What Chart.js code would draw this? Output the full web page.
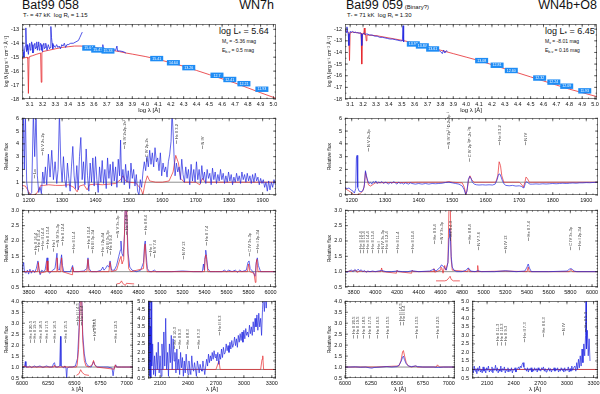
<!DOCTYPE html>
<html>
<head>
<meta charset="utf-8">
<script src="https://cdn.jsdelivr.net/npm/chart.js@4.4.1/dist/chart.umd.min.js"></script>
<style>
  html, body { margin: 0; padding: 0; background: #fff; overflow: hidden; }
  body { width: 600px; height: 394px; position: relative; font-family: "Liberation Sans", Arial, sans-serif; color: #111; }
  canvas { position: absolute; }
  .t { position: absolute; white-space: nowrap; line-height: 1; }
  sub { font-size: 70%; vertical-align: -0.25em; line-height: 0; }
</style>
</head>
<body>
<div class="t" style="left:22px;top:-1px;font-size:12.5px">Bat99 058</div>
<div class="t" style="right:326px;top:-1px;font-size:12.5px">WN7h</div>
<div class="t" style="left:23px;top:12px;font-size:6px">T<sub>*</sub> = 47 kK &nbsp;log R<sub>t</sub> = 1.15</div>
<div class="t" style="left:219px;top:27px;font-size:9px">log L<sub>*</sub> = 5.64</div>
<div class="t" style="left:222px;top:39px;font-size:5px">M<sub>v</sub> = -5.36 mag</div>
<div class="t" style="left:222px;top:48px;font-size:5px">E<sub>b-v</sub> = 0.5 mag</div>

<div class="t" style="left:346px;top:-1px;font-size:12.5px">Bat99 059<span style="font-size:6px"> (Binary?)</span></div>
<div class="t" style="right:3px;top:-1px;font-size:12.5px">WN4b+O8</div>
<div class="t" style="left:347px;top:12px;font-size:6px">T<sub>*</sub> = 71 kK &nbsp;log R<sub>t</sub> = 1.30</div>
<div class="t" style="left:545px;top:27px;font-size:9px">log L<sub>*</sub> = 6.45</div>
<div class="t" style="left:545px;top:39px;font-size:5px">M<sub>v</sub> = -8.01 mag</div>
<div class="t" style="left:545px;top:48px;font-size:5px">E<sub>b-v</sub> = 0.16 mag</div>

<script>
// ---------------- tick labels ----------------
const sedTicks = [3.1,3.2,3.3,3.4,3.5,3.6,3.7,3.8,3.9,4.0,4.1,4.2,4.3,4.4,4.5,4.6,4.7,4.8,4.9,5.0];
const sedY058 = [-18,-17,-16,-15,-14,-13];
const sedY059 = [-18,-17,-16,-15,-14,-13,-12];
const uvTicks = [1200,1300,1400,1500,1600,1700,1800,1900];
const uvY = [0,1,2,3,4,5,6];
const optTicks = [3800,4000,4200,4400,4600,4800,5000,5200,5400,5600,5800,6000];
const optY = [0.5,1.0,1.5,2.0,2.5,3.0];
const haTicks = [6000,6250,6500,6750,7000];
const haY = [0.5,1.0,1.5,2.0,2.5,3.0,3.5,4.0];
const irTicks = [2100,2400,2700,3000,3300];
const irY = [0.5,1.0,1.5,2.0,2.5,3.0,3.5,4.0,4.5,5.0];

// ---------------- Bat99 058 ----------------
const sed058Model = [[3.04,-15.1],[3.06,-15.05],[3.08,-15.0],[3.085,-15.1],[3.09,-17.6],[3.095,-15.0],[3.1,-14.95],[3.12,-14.9],[3.15,-14.8],[3.185,-14.7],[3.19,-16.8],[3.195,-14.7],[3.2,-14.6],[3.25,-14.5],[3.3,-14.4],[3.35,-14.3],[3.4,-14.25],[3.45,-14.2],[3.5,-14.2],[3.55,-14.25],[3.6,-14.3],[3.65,-14.38],[3.7,-14.45],[3.75,-14.52],[3.8,-14.6],[3.85,-14.7],[3.9,-14.78],[4.0,-14.95],[4.1,-15.15],[4.2,-15.4],[4.3,-15.65],[4.4,-15.95],[4.5,-16.25],[4.6,-16.55],[4.7,-16.85],[4.8,-17.2],[4.9,-17.55],[5.02,-17.95]];
const sed058Obs = [[3.045,-13.9],[3.05,-14.6],[3.055,-15.0],[3.06,-14.5],[3.065,-14.2],[3.07,-12.9],[3.075,-14.6],[3.08,-14.1],[3.085,-14.5],[3.09,-14.8],[3.095,-14.2],[3.10,-14.0],[3.105,-14.5],[3.11,-14.4],[3.115,-13.9],[3.12,-14.1],[3.125,-14.7],[3.13,-14.6],[3.135,-14.1],[3.14,-14.0],[3.145,-14.4],[3.15,-14.3],[3.155,-13.9],[3.16,-14.5],[3.165,-14.2],[3.17,-13.9],[3.175,-14.5],[3.18,-14.3],[3.185,-14.0],[3.19,-14.1],[3.195,-14.5],[3.20,-14.6],[3.205,-14.1],[3.21,-14.0],[3.215,-14.4],[3.22,-14.3],[3.225,-14.0],[3.23,-14.2],[3.235,-14.5],[3.24,-14.5],[3.245,-14.1],[3.25,-14.1],[3.255,-14.4],[3.26,-14.3],[3.265,-12.8],[3.27,-13.6],[3.275,-14.0],[3.28,-14.4],[3.285,-14.1],[3.29,-14.2],[3.30,-14.3],[3.31,-14.1],[3.32,-14.3],[3.33,-14.2],[3.34,-14.4],[3.35,-14.1],[3.36,-14.2],[3.37,-14.0],[3.38,-14.3],[3.39,-14.1],[3.40,-14.1],[3.42,-14.0],[3.44,-14.0],[3.46,-13.9],[3.48,-13.8],[3.49,-13.6],[3.50,-13.4],[3.51,-13.2],[3.515,null],[3.52,-14.2],[3.55,-14.3],[3.58,-14.4],[3.60,-14.35],[3.62,-14.4],[3.65,-14.4],[3.665,-14.45],[3.67,-14.1],[3.675,-14.45],[3.70,-14.45],[3.72,-14.5],[3.75,-14.45],[3.77,-14.5],[3.78,-14.2],[3.785,-14.55],[3.80,-14.55],[3.83,-14.6],[3.85,-14.7]];
const sed058Phot = [[3.56,-14.34,'15.04'],[3.63,-14.48,'15.41'],[3.71,-14.55,'15.33'],[4.09,-15.1,'15.41'],[4.22,-15.4,'14.64'],[4.34,-15.75,'13.26'],[4.56,-16.3,'12.7'],[4.66,-16.6,'12.41'],[4.77,-16.9,'12.21'],[4.91,-17.3,'11.93']];

const uv058Model = [[1180,0.75],[1190,0.7],[1197,0.4],[1203,0.1],[1210,0.0],[1222,0.05],[1230,0.4],[1236,0.75],[1245,0.75],[1260,0.8],[1280,0.75],[1300,0.75],[1320,0.8],[1335,0.6],[1345,0.25],[1352,0.7],[1365,0.8],[1375,0.4],[1382,0.8],[1400,0.85],[1420,0.8],[1440,0.85],[1460,0.9],[1475,1.2],[1482,1.5],[1490,1.1],[1500,1.0],[1520,0.95],[1535,0.5],[1542,0.05],[1548,0.9],[1555,1.5],[1562,1.1],[1580,1.0],[1600,1.0],[1620,1.1],[1632,1.8],[1640,3.1],[1648,2.5],[1655,1.3],[1665,1.0],[1700,1.0],[1712,0.8],[1720,1.3],[1728,1.0],[1800,1.0],[1940,1.0]];
const uv058Obs = [[1180,0.3],[1184,6.5],[1187,2.0],[1190,6.5],[1194,1.0],[1199,0.1],[1204,0.0],[1209,0.2],[1214,6.5],[1218,3.0],[1222,6.5],[1226,1.5],[1230,0.2],[1234,0.6],[1238,0.1],[1242,1.8],[1246,0.9],[1250,2.2],[1254,0.8],[1259,3.2],[1264,1.4],[1269,3.5],[1274,1.2],[1279,2.6],[1284,0.9],[1288,2.0],[1292,6.5],[1296,2.5],[1300,1.0],[1304,3.0],[1308,1.2],[1312,0.6],[1316,2.5],[1320,1.3],[1324,0.3],[1328,2.2],[1332,3.8],[1336,1.5],[1340,0.5],[1344,2.3],[1348,0.4],[1352,3.0],[1356,4.5],[1360,1.2],[1364,2.6],[1368,0.8],[1372,3.6],[1376,1.5],[1380,0.3],[1384,2.5],[1388,1.0],[1392,2.9],[1396,0.7],[1400,3.0],[1404,1.2],[1408,0.2],[1412,2.2],[1416,1.0],[1420,2.7],[1424,0.9],[1428,2.0],[1432,0.5],[1436,2.9],[1440,1.3],[1444,2.4],[1448,0.7],[1452,2.6],[1456,1.1],[1460,2.2],[1464,0.6],[1468,2.8],[1472,1.5],[1475,4.3],[1478,1.0],[1482,2.0],[1486,0.8],[1490,2.4],[1494,1.0],[1498,1.9],[1502,0.5],[1506,2.5],[1510,1.3],[1514,2.0],[1518,0.7],[1522,1.6],[1526,0.3],[1530,0.0],[1534,1.2],[1538,0.6],[1542,1.8],[1546,2.6],[1550,1.9],[1554,3.0],[1558,2.2],[1562,3.5],[1566,2.4],[1570,3.3],[1574,2.2],[1578,3.7],[1582,2.6],[1586,2.9],[1590,1.9],[1594,3.3],[1598,1.5],[1602,2.5],[1606,1.8],[1610,2.2],[1614,1.4],[1618,2.6],[1622,3.2],[1626,4.2],[1629,6.5],[1632,5.0],[1635,3.0],[1638,1.5],[1642,2.5],[1646,1.8],[1650,2.2],[1654,1.2],[1658,2.8],[1662,1.6],[1666,1.0],[1670,2.2],[1674,1.3],[1678,2.0],[1682,0.8],[1686,2.4],[1690,1.1],[1694,2.0],[1698,1.0],[1702,2.6],[1706,1.2],[1710,2.0],[1714,0.9],[1718,2.3],[1722,1.2],[1726,1.8],[1730,0.9],[1734,2.0],[1738,1.3],[1742,1.7],[1746,0.8],[1750,2.1],[1754,1.2],[1758,1.8],[1762,0.9],[1766,1.6],[1770,1.1],[1774,2.0],[1778,1.2],[1782,1.7],[1786,0.9],[1790,1.5],[1794,1.0],[1798,1.8],[1802,1.1],[1806,1.6],[1810,0.8],[1814,1.4],[1818,1.0],[1822,1.7],[1826,1.1],[1830,1.5],[1834,0.9],[1838,1.8],[1842,1.2],[1846,1.6],[1850,1.0],[1854,1.7],[1858,1.1],[1862,1.5],[1866,0.9],[1870,1.6],[1874,1.0],[1878,1.7],[1882,1.1],[1886,1.4],[1890,0.8],[1894,1.3],[1898,0.9],[1902,1.2],[1906,0.6],[1910,1.0],[1914,0.3],[1918,1.1],[1922,0.4],[1926,1.0],[1930,0.6],[1934,1.2],[1938,0.8]];
const uv058Ids = [[1215,1.3,'Lα'],[1240,3.1,'N V 2s-2p'],[1486,3.6,'N IV 2s2p-2s²'],[1550,2.6,'C IV 2p-2s'],[1640,4.0,'He II 3-2'],[1718,3.6,'N IV']];

const opt058Obs = [[3740,1.0],[3750,1.25],[3755,1.3],[3762,1.0],[3775,0.95],[3790,1.05],[3800,0.92],[3812,1.08],[3825,0.95],[3840,1.05],[3855,0.97],[3870,1.1],[3885,1.35],[3893,1.1],[3905,0.9],[3920,1.05],[3935,1.0],[3950,1.05],[3968,1.45],[3975,1.05],[3990,0.95],[4005,1.0],[4020,1.05],[4040,1.1],[4058,1.6],[4066,1.1],[4080,1.05],[4100,1.55],[4108,1.2],[4120,1.0],[4150,1.0],[4180,1.0],[4200,1.2],[4210,1.0],[4250,1.0],[4300,1.02],[4330,1.1],[4340,1.45],[4350,1.1],[4370,1.0],[4420,1.0],[4460,1.05],[4475,1.15],[4485,1.05],[4500,1.1],[4515,1.2],[4530,1.15],[4541,1.35],[4555,1.05],[4580,1.05],[4600,1.2],[4620,1.5],[4634,1.7],[4640,2.0],[4648,1.6],[4660,1.5],[4672,2.2],[4680,3.2],[4686,3.2],[4695,2.6],[4705,1.6],[4720,1.15],[4740,1.05],[4780,1.0],[4820,1.05],[4845,1.3],[4855,1.9],[4861,2.0],[4868,1.6],[4880,1.1],[4900,1.0],[4920,1.0],[4945,1.05],[4960,1.0],[5000,1.0],[5100,1.0],[5200,1.02],[5300,1.0],[5380,1.0],[5390,1.25],[5398,1.05],[5405,1.5],[5411,1.7],[5418,1.5],[5430,1.1],[5450,1.0],[5500,1.0],[5560,1.0],[5580,1.05],[5600,1.0],[5620,1.05],[5650,1.0],[5680,1.05],[5700,0.98],[5720,1.05],[5740,1.0],[5780,1.05],[5795,1.3],[5805,1.35],[5815,1.1],[5840,1.0],[5860,0.85],[5870,1.3],[5880,1.45],[5890,1.2],[5910,1.0],[5950,1.0],[6000,1.0],[6050,1.0]];
const opt058Model = [[3740,1.0],[3880,1.0],[3889,1.3],[3900,0.95],[3960,1.0],[3968,1.35],[3976,1.0],[4050,1.0],[4058,1.45],[4066,1.0],[4092,1.0],[4100,1.45],[4108,1.0],[4195,0.9],[4200,1.15],[4210,1.0],[4330,1.0],[4340,1.4],[4350,1.0],[4530,1.0],[4541,1.3],[4552,1.0],[4600,1.05],[4634,1.45],[4640,1.5],[4650,1.25],[4665,1.4],[4680,3.2],[4692,3.2],[4700,1.8],[4710,1.1],[4730,1.0],[4845,1.1],[4855,1.8],[4861,1.9],[4870,1.3],[4880,1.0],[5400,1.0],[5405,1.45],[5411,1.55],[5418,1.4],[5430,1.0],[5790,1.0],[5801,1.25],[5812,1.0],[5850,0.95],[5862,0.65],[5868,1.2],[5876,1.4],[5886,1.0],[6050,1.0]];
const opt058Inset = [[4600,0.6],[4630,0.62],[4645,0.7],[4655,0.62],[4680,0.55],[4690,0.62],[4760,0.6]];
const opt058Ids = [[3858,1.55,'He II 16-4'],[3889,1.65,'He II 15-4'],[3923,1.7,'He II 14-4'],[3968,1.75,'He II 13-4'],[4026,1.65,'He I'],[4058,1.8,'N IV 3s-3p'],[4100,1.85,'He II 12-4'],[4200,1.6,'He II 11-4'],[4340,1.75,'He II 10-4'],[4379,1.6,'N III 3p-3d'],[4471,1.5,'He I 2p-4d'],[4511,1.6,'N III 3s-3p'],[4541,1.55,'He II 9-4'],[4604,2.1,'N V 3s-3p'],[4686,2.2,'He II 4-3'],[4861,2.2,'He II 8-4'],[4905,1.5,'He I'],[4945,1.45,'N V 7-6'],[5200,1.4,'N IV 13'],[5411,1.85,'He II 7-4'],[5801,1.5,'C IV 3s-3p'],[5876,1.6,'He I 2p-3d']];

const ha058Obs = [[6000,1.0],[6010,0.95],[6025,1.05],[6032,1.25],[6038,1.0],[6060,1.0],[6074,1.05],[6090,0.97],[6118,1.05],[6140,1.0],[6171,1.05],[6200,0.98],[6233,1.05],[6260,1.0],[6290,1.0],[6300,1.15],[6310,1.2],[6320,1.0],[6340,1.0],[6360,1.05],[6368,2.4],[6372,1.05],[6390,1.0],[6400,0.95],[6410,1.05],[6420,0.95],[6427,0.45],[6432,0.95],[6450,1.0],[6480,1.0],[6510,1.05],[6530,1.4],[6545,2.8],[6555,4.2],[6570,4.2],[6580,2.5],[6595,1.6],[6610,1.2],[6630,1.05],[6660,1.0],[6675,1.15],[6683,1.25],[6695,1.1],[6720,1.0],[6780,1.0],[6820,1.0],[6860,0.95],[6870,0.6],[6880,0.95],[6895,1.1],[6905,1.0],[6950,1.0],[7000,1.0],[7060,1.0]];
const ha058Model = [[6000,1.0],[6030,1.05],[6040,1.0],[6305,1.0],[6310,1.08],[6320,1.0],[6400,1.0],[6406,1.05],[6412,1.0],[6520,1.0],[6527,1.1],[6540,1.8],[6550,3.2],[6558,4.2],[6570,4.2],[6580,2.2],[6595,1.3],[6610,1.05],[6640,1.0],[6670,1.1],[6683,1.3],[6695,1.1],[6710,1.0],[6880,0.9],[6891,1.1],[6900,1.0],[7060,1.0]];
const ha058Inset = [[6520,0.62],[6545,0.7],[6560,0.88],[6575,0.75],[6600,0.65],[6640,0.62]];
const ha058Ids = [[6074,2.1,'He II 20-5'],[6118,2.1,'He II 19-5'],[6171,2.1,'He II 18-5'],[6233,2.1,'He II 17-5'],[6310,2.1,'He II 16-5'],[6406,2.1,'He II 15-5'],[6527,2.9,'He II 14-5'],[6560,2.9,'He II 6-4'],[6678,2.6,'He I'],[6683,2.2,'He II 13-5'],[6891,2.1,'He II 12-5']];

const ir058Obs = [[1975,5.5],[1980,1.0],[1985,5.5],[1990,0.6],[1995,3.5],[2000,0.5],[2005,5.5],[2010,1.2],[2020,2.5],[2030,0.7],[2040,1.8],[2050,0.6],[2060,2.0],[2070,1.0],[2080,2.6],[2090,0.8],[2100,1.8],[2110,0.6],[2120,2.5],[2130,1.0],[2140,3.2],[2150,1.2],[2160,4.0],[2170,1.0],[2180,2.0],[2190,0.6],[2200,2.5],[2210,1.4],[2220,3.0],[2230,1.0],[2240,2.8],[2250,1.5],[2260,2.0],[2270,0.8],[2280,2.2],[2290,1.0],[2300,1.6],[2310,0.7],[2320,2.0],[2330,1.1],[2340,1.7],[2350,0.6],[2360,1.5],[2370,0.8],[2380,1.9],[2390,1.2],[2400,0.7],[2410,1.5],[2420,1.0],[2430,0.7],[2440,1.8],[2450,1.1],[2460,0.9],[2470,1.4],[2480,1.0],[2490,0.6],[2500,1.5],[2510,1.2],[2520,0.8],[2530,1.3],[2540,1.0],[2550,0.9],[2560,1.5],[2570,1.1],[2580,0.7],[2590,1.2],[2600,1.6],[2610,1.2],[2620,1.9],[2630,1.4],[2640,1.8],[2650,1.5],[2660,2.0],[2670,1.6],[2680,2.1],[2690,1.7],[2700,1.9],[2710,1.5],[2720,2.0],[2730,1.3],[2740,1.9],[2750,1.6],[2760,2.2],[2770,1.7],[2780,2.3],[2790,1.9],[2800,2.0],[2810,2.5],[2820,2.1],[2830,2.4],[2840,2.0],[2850,2.6],[2860,2.2],[2870,2.7],[2880,2.3],[2890,2.5],[2900,2.9],[2910,2.4],[2920,2.8],[2930,2.3],[2940,3.0],[2950,2.6],[2960,3.1],[2970,2.7],[2980,3.2],[2990,2.6],[3000,3.3],[3010,2.8],[3020,3.4],[3030,3.0],[3040,3.2],[3050,2.9],[3060,3.6],[3070,3.1],[3080,3.5],[3090,3.0],[3100,3.8],[3110,3.2],[3120,4.0],[3130,3.5],[3140,4.2],[3150,3.3],[3160,4.3],[3170,3.5],[3180,4.0],[3190,3.0],[3200,4.5],[3210,5.5],[3220,4.4],[3230,5.5],[3240,4.6],[3250,5.5],[3260,5.5]];
const ir058Model = [[1970,1.0],[2500,1.0],[2505,1.03],[2515,1.0],[2700,1.0],[2725,1.4],[2733,1.5],[2745,1.0],[3180,1.0],[3195,1.6],[3203,1.8],[3212,1.0],[3345,1.0]];
const ir058Ids = [[2253,2.2,'He II 10-3'],[2306,2.2,'He II 9-3'],[2385,2.2,'He II 8-3'],[2511,2.2,'He II 7-3'],[2733,3.0,'He II 6-3']];

// ---------------- Bat99 059 ----------------
const sed059Model = [[3.06,-12.15],[3.08,-12.2],[3.09,-12.3],[3.095,-14.7],[3.10,-12.3],[3.12,-12.25],[3.15,-12.3],[3.185,-12.35],[3.19,-15.0],[3.195,-12.4],[3.205,-12.4],[3.21,-11.9],[3.215,-12.5],[3.22,-12.45],[3.225,-13.0],[3.23,-12.5],[3.3,-12.55],[3.4,-12.75],[3.5,-12.95],[3.6,-13.2],[3.7,-13.5],[3.8,-13.8],[3.9,-14.1],[4.0,-14.4],[4.1,-14.7],[4.2,-15.05],[4.3,-15.4],[4.4,-15.75],[4.5,-16.1],[4.6,-16.45],[4.7,-16.8],[4.8,-17.15],[4.9,-17.45],[5.015,-17.8]];
const sed059Obs = [[3.065,-12.1],[3.07,-12.3],[3.075,-11.8],[3.08,-12.2],[3.085,-12.4],[3.09,-13.4],[3.095,-12.5],[3.10,-12.2],[3.11,-12.25],[3.12,-12.2],[3.13,-12.3],[3.14,-12.25],[3.15,-12.3],[3.16,-12.3],[3.17,-12.35],[3.18,-12.3],[3.185,-12.4],[3.19,-13.4],[3.195,-12.5],[3.20,-12.4],[3.21,-12.35],[3.22,-12.45],[3.23,-12.4],[3.25,-12.5],[3.27,-12.5],[3.29,-12.6],[3.31,-12.6],[3.33,-12.7],[3.35,-12.7],[3.37,-12.75],[3.39,-12.8],[3.41,-12.85],[3.43,-12.85],[3.45,-12.9],[3.47,-12.95],[3.49,-13.0],[3.505,-13.0],[3.51,-11.7],[3.515,-13.1],[3.52,null],[3.56,-13.15],[3.58,-13.2],[3.60,-13.25],[3.62,-13.3],[3.64,-13.4],[3.66,-13.45],[3.68,-13.5],[3.70,-13.55],[3.72,-13.6],[3.74,-13.65],[3.76,-13.75],[3.78,-13.8],[3.80,-13.9],[3.815,-14.1],[3.825,-13.8],[3.835,-14.05],[3.845,-13.85],[3.855,-13.9]];
const sed059Phot = [[3.59,-13.27,'13.98'],[3.66,-13.44,'13.84'],[3.74,-13.7,'13.61'],[4.12,-14.7,'13.08'],[4.24,-15.1,'12.81'],[4.35,-15.55,'12.60'],[4.57,-16.2,'12.32'],[4.68,-16.55,'12.24'],[4.78,-16.9,'12.09'],[4.92,-17.3,'11.93']];

const uv059Obs = [[1180,0.6],[1186,0.5],[1192,0.55],[1198,0.4],[1204,0.3],[1208,0.15],[1212,0.5],[1214,2.9],[1216,3.1],[1218,0.6],[1222,0.3],[1228,0.25],[1234,0.35],[1238,0.8],[1241,1.9],[1244,1.5],[1248,1.1],[1252,0.9],[1256,1.0],[1260,0.85],[1264,1.05],[1268,0.95],[1272,1.1],[1276,0.9],[1280,1.0],[1285,0.95],[1290,1.05],[1295,0.9],[1300,1.0],[1305,0.95],[1310,0.85],[1315,1.0],[1320,0.9],[1325,1.05],[1330,0.95],[1335,0.85],[1340,1.0],[1345,0.9],[1350,0.95],[1355,0.85],[1360,0.95],[1365,0.9],[1370,0.85],[1375,0.95],[1380,0.9],[1390,0.85],[1400,0.9],[1410,0.85],[1420,0.9],[1430,0.85],[1440,0.9],[1450,0.88],[1460,0.9],[1470,0.92],[1480,0.98],[1490,1.0],[1500,0.95],[1510,0.9],[1520,0.85],[1530,0.7],[1536,0.4],[1540,0.05],[1544,0.3],[1548,1.2],[1552,1.45],[1556,1.3],[1560,1.0],[1566,0.85],[1572,0.8],[1580,0.78],[1590,0.8],[1600,0.78],[1610,0.8],[1620,0.78],[1628,0.85],[1634,1.2],[1638,1.6],[1642,1.65],[1646,1.4],[1650,1.1],[1655,0.85],[1660,0.75],[1670,0.72],[1680,0.75],[1690,0.7],[1700,0.72],[1706,0.68],[1710,0.6],[1714,0.55],[1718,0.9],[1722,1.05],[1726,0.95],[1732,0.85],[1740,0.85],[1750,0.87],[1760,0.85],[1770,0.88],[1780,0.86],[1790,0.88],[1800,0.9],[1810,0.88],[1820,0.9],[1830,0.92],[1840,0.9],[1850,0.92],[1860,0.94],[1870,0.92],[1880,0.95],[1890,0.95],[1900,0.97],[1910,0.96],[1920,0.98],[1935,1.0]];
const uv059Model = [[1180,0.5],[1190,0.35],[1198,0.2],[1205,0.05],[1215,0.0],[1225,0.1],[1232,0.3],[1237,0.6],[1241,1.8],[1245,1.3],[1250,0.8],[1256,0.7],[1262,0.8],[1270,0.95],[1300,0.97],[1350,0.98],[1400,1.0],[1480,1.0],[1490,1.05],[1500,1.0],[1530,0.95],[1536,0.6],[1541,0.0],[1545,0.5],[1549,1.2],[1553,1.5],[1558,1.2],[1565,1.0],[1630,1.0],[1636,1.5],[1640,2.6],[1644,2.3],[1648,1.5],[1654,1.0],[1700,1.0],[1708,0.8],[1712,0.6],[1717,1.0],[1720,1.4],[1724,1.3],[1730,1.0],[1935,1.0]];
const uv059Ids = [[1250,3.4,'N V 2s-2p'],[1486,3.6,'N IV 2p² ¹D-2s2p ¹P°'],[1550,2.6,'C IV 2p ²P°-2s ²S'],[1640,3.9,'He II 3-2'],[1718,3.9,'N IV']];

const opt059Obs = [[3720,1.0],[3740,0.98],[3760,1.03],[3780,1.05],[3795,1.0],[3810,1.07],[3825,1.02],[3840,1.08],[3855,1.03],[3870,1.06],[3885,1.0],[3900,1.04],[3915,0.98],[3930,1.02],[3950,1.0],[3975,1.02],[4000,1.0],[4025,1.02],[4058,1.04],[4100,1.0],[4150,1.0],[4200,1.02],[4250,1.0],[4300,1.0],[4340,1.03],[4400,1.0],[4500,1.02],[4541,1.08],[4560,1.02],[4600,1.15],[4610,1.22],[4625,1.18],[4640,1.12],[4655,1.05],[4670,1.3],[4680,2.1],[4686,2.4],[4692,2.2],[4700,1.5],[4710,1.15],[4725,1.05],[4750,1.0],[4800,1.0],[4840,1.05],[4855,1.12],[4865,1.1],[4880,1.02],[4920,1.0],[4945,1.03],[4980,1.0],[5100,1.0],[5200,1.03],[5300,1.0],[5380,1.02],[5400,1.15],[5411,1.25],[5422,1.12],[5440,1.0],[5600,1.0],[5770,1.02],[5790,1.08],[5806,1.1],[5820,1.07],[5835,1.02],[5860,1.0],[6055,1.0]];
const opt059Model = [[3720,1.0],[3790,1.02],[3820,1.05],[3830,0.98],[3860,1.02],[3900,1.0],[4050,1.0],[4058,1.12],[4066,1.0],[4195,0.95],[4200,1.05],[4210,1.0],[4335,0.95],[4340,1.05],[4350,1.0],[4536,1.0],[4541,1.1],[4548,0.98],[4600,1.05],[4605,1.15],[4615,1.1],[4625,0.95],[4640,1.2],[4650,1.05],[4670,1.3],[4680,3.2],[4692,3.2],[4700,1.4],[4710,1.05],[4850,1.0],[4861,1.1],[4870,1.0],[4940,1.0],[4945,1.2],[4950,1.0],[5200,1.02],[5400,1.0],[5411,1.15],[5420,1.0],[5790,1.0],[5806,1.08],[5820,1.0],[6055,1.0]];
const opt059Inset = [[4560,0.7],[4640,0.7],[4660,0.72],[4680,0.8],[4690,0.85],[4700,0.75],[4720,0.7],[4780,0.7]];
const opt059Ids = [[3858,1.6,'He II 16-4'],[3889,1.6,'He II 15-4'],[3923,1.6,'He II 14-4'],[3968,1.6,'He II 13-4'],[4026,1.6,'He I'],[4058,1.6,'N IV 3s-3p'],[4100,1.6,'He II 12-4'],[4200,1.6,'He II 11-4'],[4340,1.6,'He II 10-4'],[4541,1.9,'He II 9-4'],[4604,1.9,'N V 3s-3p'],[4686,2.0,'He II 4-3'],[4861,1.9,'He II 8-4'],[4945,1.7,'N V 7-6'],[5200,1.6,'N IV 13'],[5411,2.0,'He II 7-4'],[5801,1.7,'C IV 3s-3p'],[5876,1.7,'He I 2p-3d']];

const ha059Obs = [[6000,1.0],[6050,1.0],[6100,1.01],[6150,0.99],[6200,1.0],[6240,0.96],[6260,0.95],[6280,0.98],[6350,1.0],[6400,1.02],[6450,1.0],[6500,1.02],[6520,1.08],[6540,1.25],[6555,1.45],[6563,1.5],[6572,1.35],[6590,1.15],[6610,1.05],[6640,1.02],[6680,1.05],[6700,1.02],[6750,1.0],[6800,1.0],[6850,1.0],[6900,0.98],[6950,1.0],[7000,1.0],[7060,1.0]];
const ha059Model = [[6000,1.0],[6300,1.0],[6520,1.05],[6540,1.3],[6555,1.7],[6563,1.75],[6572,1.55],[6590,1.2],[6610,1.05],[6640,1.0],[6683,1.05],[6700,1.0],[6880,1.0],[6891,1.1],[6910,1.0],[7060,1.0]];
const ha059Ids = [[6074,2.3,'He II 20-5'],[6118,2.3,'He II 19-5'],[6171,2.3,'He II 18-5'],[6233,2.3,'He II 17-5'],[6310,2.3,'He II 16-5'],[6406,2.3,'He II 15-5'],[6527,2.9,'He II 14-5'],[6560,2.9,'He II 6-4'],[6683,2.3,'He II 13-5'],[6891,2.3,'He II 12-5']];

const ir059Obs = [[1935,1.1],[1945,0.8],[1955,1.2],[1965,0.9],[1975,1.05],[1985,0.75],[1995,1.1],[2005,0.9],[2015,1.2],[2025,0.85],[2035,1.0],[2045,0.8],[2055,1.15],[2065,0.9],[2075,1.05],[2085,0.8],[2095,1.1],[2105,0.95],[2115,1.2],[2125,0.85],[2135,1.0],[2145,0.9],[2155,1.15],[2165,0.8],[2175,1.05],[2185,0.95],[2195,1.25],[2205,0.9],[2215,1.1],[2225,0.8],[2235,1.0],[2245,0.9],[2255,1.2],[2265,0.85],[2275,1.05],[2285,0.95],[2295,1.15],[2305,0.8],[2315,1.0],[2325,0.9],[2335,1.1],[2345,0.85],[2355,1.0],[2365,0.9],[2375,1.1],[2385,0.8],[2395,1.0],[2405,0.95],[2415,1.1],[2425,0.85],[2435,1.0],[2445,1.05],[2455,1.15],[2465,1.0],[2475,1.2],[2485,1.1],[2495,1.3],[2505,1.4],[2515,1.15],[2525,1.0],[2535,1.05],[2545,0.9],[2555,1.1],[2565,0.85],[2575,1.05],[2585,0.95],[2595,1.1],[2605,0.85],[2615,1.0],[2625,0.9],[2635,1.1],[2645,0.95],[2655,1.05],[2665,0.85],[2675,1.1],[2685,0.95],[2695,1.0],[2705,0.9],[2715,1.1],[2725,1.0],[2735,1.15],[2745,0.9],[2755,1.05],[2765,0.85],[2775,1.0],[2785,0.95],[2795,1.1],[2805,0.9],[2815,1.05],[2825,0.85],[2835,1.0],[2845,0.95],[2855,1.1],[2865,0.9],[2875,1.05],[2885,0.95],[2895,1.1],[2905,0.85],[2915,1.0],[2925,0.9],[2935,1.1],[2945,0.95],[2955,1.05],[2965,0.85],[2975,1.1],[2985,0.9],[2995,1.0],[3005,0.95],[3015,1.15],[3025,0.85],[3035,1.05],[3045,0.9],[3055,1.2],[3065,0.95],[3075,1.1],[3090,1.2],[3100,0.9],[3110,1.4],[3120,1.0],[3130,1.6],[3140,1.1],[3150,1.8],[3160,1.2],[3170,2.2],[3180,1.4],[3190,2.5],[3200,1.8],[3210,3.0],[3215,5.5],[3220,2.2],[3230,3.3],[3240,1.8],[3250,2.8],[3260,1.5]];
const ir059Model = [[1930,1.0],[3350,1.0]];
const ir059Ids = [[2214,2.4,'He II 11-3'],[2253,2.4,'He II 10-3'],[2306,2.4,'He II 9-3'],[2511,2.6,'He II 7-3'],[2733,2.9,'He II 6-3'],[2950,3.0,'N IV'],[3203,3.2,'He II 5-3']];

// ---------------- drawing ----------------
const BLUE = 'rgb(35,40,225)';
const RED = 'rgb(230,40,45)';
const FONT = '"Liberation Sans", Arial, sans-serif';

function pts(arr) { return arr.map(p => ({ x: p[0], y: p[1] })); }

// frame, inward ticks and the unity line
const framePlugin = {
  id: 'frame',
  beforeDatasetsDraw(chart, args, opts) {
    if (!opts.unity) return;
    const { ctx, chartArea: a, scales: { y } } = chart;
    const py = y.getPixelForValue(1);
    ctx.save();
    ctx.strokeStyle = '#444';
    ctx.lineWidth = 0.6;
    ctx.beginPath(); ctx.moveTo(a.left, py); ctx.lineTo(a.right, py); ctx.stroke();
    ctx.restore();
  },
  afterDatasetsDraw(chart, args, opts) {
    const { ctx, chartArea: a, scales: { x, y } } = chart;
    ctx.save();
    ctx.strokeStyle = '#222';
    ctx.lineWidth = 0.6;
    ctx.strokeRect(a.left + 0.3, a.top + 0.3, a.right - a.left - 0.6, a.bottom - a.top - 0.6);
    ctx.beginPath();
    const tick = (px, len, horiz) => {
      if (horiz) {
        ctx.moveTo(px, a.bottom); ctx.lineTo(px, a.bottom - len);
        ctx.moveTo(px, a.top); ctx.lineTo(px, a.top + len);
      } else {
        ctx.moveTo(a.left, px); ctx.lineTo(a.left + len, px);
        ctx.moveTo(a.right, px); ctx.lineTo(a.right - len, px);
      }
    };
    const minor = (scale, step, horiz) => {
      if (!step) return;
      for (let v = Math.ceil(scale.min / step) * step; v <= scale.max + 1e-9; v += step) {
        tick(scale.getPixelForValue(v), 1.5, horiz);
      }
    };
    x.ticks.forEach(t => tick(x.getPixelForValue(t.value), 3, true));
    y.ticks.forEach(t => tick(y.getPixelForValue(t.value), 3, false));
    minor(x, opts.xMinor, true);
    minor(y, opts.yMinor, false);
    ctx.stroke();
    ctx.restore();
  }
};

// rotated line identifications
const idsPlugin = {
  id: 'ids',
  afterDatasetsDraw(chart, args, opts) {
    if (!opts.items) return;
    const { ctx, scales: { x, y } } = chart;
    ctx.save();
    ctx.fillStyle = '#333';
    ctx.strokeStyle = '#333';
    ctx.lineWidth = 0.5;
    ctx.font = '4px ' + FONT;
    opts.items.forEach(([wl, base, txt]) => {
      const px = Math.round(x.getPixelForValue(wl)) + 0.5;
      const py = y.getPixelForValue(base);
      ctx.beginPath(); ctx.moveTo(px, py); ctx.lineTo(px, py - 3.5); ctx.stroke();
      ctx.save();
      ctx.translate(px, py - 4.5);
      ctx.rotate(-Math.PI / 2);
      ctx.textAlign = 'left';
      ctx.textBaseline = 'middle';
      ctx.fillText(txt, 0, 0);
      ctx.restore();
    });
    ctx.restore();
  }
};

// photometry boxes on the SED
const photPlugin = {
  id: 'phot',
  afterDatasetsDraw(chart, args, opts) {
    if (!opts.items) return;
    const { ctx, scales: { x, y } } = chart;
    ctx.save();
    ctx.font = '3.6px ' + FONT;
    ctx.textAlign = 'center';
    ctx.textBaseline = 'middle';
    opts.items.forEach(([lx, ly, txt]) => {
      const px = x.getPixelForValue(lx), py = y.getPixelForValue(ly);
      ctx.fillStyle = 'rgb(30,140,245)';
      ctx.fillRect(px - 6.5, py - 2.7, 13, 5.4);
      ctx.fillStyle = '#fff';
      ctx.fillText(txt, px, py + 0.2);
    });
    ctx.restore();
  }
};

function makePanel(p) {
  const padL = 22, padR = 7, padT = 5;
  const W = p.w + padL + padR, H = p.h + padT + p.padB;
  const cv = document.createElement('canvas');
  cv.width = W; cv.height = H;
  cv.style.left = (p.l - padL) + 'px';
  cv.style.top = (p.t - padT) + 'px';
  cv.style.width = W + 'px';
  cv.style.height = H + 'px';
  document.body.appendChild(cv);

  const tickFont = { family: FONT, size: 5.5 };
  return new Chart(cv.getContext('2d'), {
    type: 'line',
    data: {
      datasets: p.series.map(s => ({
        data: pts(s.data), borderColor: s.color, borderWidth: s.width || 0.7,
        pointRadius: 0, fill: false, tension: 0, spanGaps: false
      }))
    },
    options: {
      responsive: false, animation: false, events: [],
      layout: { padding: { left: 0, right: padR, top: padT, bottom: 0 } },
      plugins: {
        legend: { display: false }, tooltip: { enabled: false },
        frame: { unity: p.unity, xMinor: p.xMinor, yMinor: p.yMinor },
        ids: { items: p.ids },
        phot: { items: p.phot }
      },
      scales: {
        x: {
          type: 'linear', min: p.xMin, max: p.xMax,
          grid: { display: false, drawTicks: false }, border: { display: false },
          afterBuildTicks: s => { s.ticks = p.xTicks.map(v => ({ value: v })); },
          afterFit: s => { s.height = p.padB; },
          ticks: { font: tickFont, color: '#111', padding: 2, maxRotation: 0, autoSkip: false,
                   callback: v => p.xFmt ? p.xFmt(v) : String(v) },
          title: { display: !!p.xTitle, text: p.xTitle, font: { family: FONT, size: 6 }, color: '#111',
                   padding: { top: 0, bottom: 0.8 } }
        },
        y: {
          type: 'linear', min: p.yMin, max: p.yMax,
          grid: { display: false, drawTicks: false }, border: { display: false },
          afterBuildTicks: s => { s.ticks = p.yTicks.map(v => ({ value: v })); },
          afterFit: s => { s.width = padL; },
          ticks: { font: tickFont, color: '#111', padding: 3, autoSkip: false,
                   callback: v => p.yFmt ? p.yFmt(v) : String(v) },
          title: { display: !!p.yTitle, text: p.yTitle, font: { family: FONT, size: 5 }, color: '#111',
                   padding: { top: 4, bottom: 0 } }
        }
      }
    },
    plugins: [framePlugin, idsPlugin, photPlugin]
  });
}

const f1 = v => v.toFixed(1);
const sedTitle = 'log fλ [erg s⁻¹ cm⁻² Å⁻¹]';

// left column: Bat99 058
makePanel({ l: 22, t: 23, w: 254, h: 76, padB: 16, xMin: 3.04, xMax: 5.02, yMin: -18, yMax: -12.64,
  xTicks: sedTicks, yTicks: sedY058, xFmt: f1, xMinor: 0.05, yMinor: 0.5, xTitle: 'log λ [Å]', yTitle: sedTitle,
  phot: sed058Phot,
  series: [{ data: sed058Obs, color: BLUE, width: 0.8 }, { data: sed058Model, color: RED, width: 0.8 }] });
makePanel({ l: 22, t: 117, w: 254, h: 78, padB: 9, xMin: 1180, xMax: 1940, yMin: 0, yMax: 6,
  xTicks: uvTicks, yTicks: uvY, xMinor: 20, yMinor: 0.5, yTitle: 'Relative flux', unity: true, ids: uv058Ids,
  series: [{ data: uv058Obs, color: BLUE }, { data: uv058Model, color: RED }] });
makePanel({ l: 22, t: 209, w: 254, h: 78, padB: 9, xMin: 3740, xMax: 6050, yMin: 0.5, yMax: 3.0,
  xTicks: optTicks, yTicks: optY, yFmt: f1, xMinor: 50, yMinor: 0.1, yTitle: 'Relative flux', unity: true, ids: opt058Ids,
  series: [{ data: opt058Model, color: RED }, { data: opt058Obs, color: BLUE }, { data: opt058Inset, color: RED }] });
makePanel({ l: 22, t: 300, w: 111, h: 78, padB: 16, xMin: 6000, xMax: 7060, yMin: 0.5, yMax: 4.0,
  xTicks: haTicks, yTicks: haY, yFmt: f1, xMinor: 50, yMinor: 0.1, xTitle: 'λ [Å]', yTitle: 'Relative flux', unity: true, ids: ha058Ids,
  series: [{ data: ha058Model, color: RED }, { data: ha058Obs, color: BLUE }, { data: ha058Inset, color: RED }] });
makePanel({ l: 148, t: 300, w: 128, h: 78, padB: 16, xMin: 1970, xMax: 3345, yMin: 0.5, yMax: 5.0,
  xTicks: irTicks, yTicks: irY, yFmt: f1, xMinor: 100, yMinor: 0.1, xTitle: 'λ [Å]', unity: true, ids: ir058Ids,
  series: [{ data: ir058Obs, color: BLUE }, { data: ir058Model, color: RED }] });

// right column: Bat99 059
makePanel({ l: 345, t: 23, w: 252, h: 76, padB: 16, xMin: 3.06, xMax: 5.015, yMin: -18, yMax: -11.58,
  xTicks: sedTicks, yTicks: sedY059, xFmt: f1, xMinor: 0.05, yMinor: 0.5, xTitle: 'log λ [Å]', yTitle: sedTitle,
  phot: sed059Phot,
  series: [{ data: sed059Obs, color: BLUE, width: 0.8 }, { data: sed059Model, color: RED, width: 0.8 }] });
makePanel({ l: 345, t: 117, w: 253, h: 78, padB: 9, xMin: 1180, xMax: 1935, yMin: 0, yMax: 6,
  xTicks: uvTicks, yTicks: uvY, xMinor: 20, yMinor: 0.5, yTitle: 'Relative flux', unity: true, ids: uv059Ids,
  series: [{ data: uv059Obs, color: BLUE }, { data: uv059Model, color: RED }] });
makePanel({ l: 345, t: 209, w: 253, h: 78, padB: 9, xMin: 3720, xMax: 6055, yMin: 0.5, yMax: 3.0,
  xTicks: optTicks, yTicks: optY, yFmt: f1, xMinor: 50, yMinor: 0.1, yTitle: 'Relative flux', unity: true, ids: opt059Ids,
  series: [{ data: opt059Obs, color: BLUE }, { data: opt059Model, color: RED }, { data: opt059Inset, color: RED }] });
makePanel({ l: 345, t: 300, w: 110, h: 78, padB: 16, xMin: 6000, xMax: 7060, yMin: 0.5, yMax: 4.0,
  xTicks: haTicks, yTicks: haY, yFmt: f1, xMinor: 50, yMinor: 0.1, xTitle: 'λ [Å]', yTitle: 'Relative flux', unity: true, ids: ha059Ids,
  series: [{ data: ha059Obs, color: BLUE }, { data: ha059Model, color: RED }] });
makePanel({ l: 472, t: 300, w: 126, h: 78, padB: 16, xMin: 1930, xMax: 3350, yMin: 0.5, yMax: 5.0,
  xTicks: irTicks, yTicks: irY, yFmt: f1, xMinor: 100, yMinor: 0.1, xTitle: 'λ [Å]', unity: true, ids: ir059Ids,
  series: [{ data: ir059Obs, color: BLUE }, { data: ir059Model, color: RED }] });
</script>
</body>
</html>
